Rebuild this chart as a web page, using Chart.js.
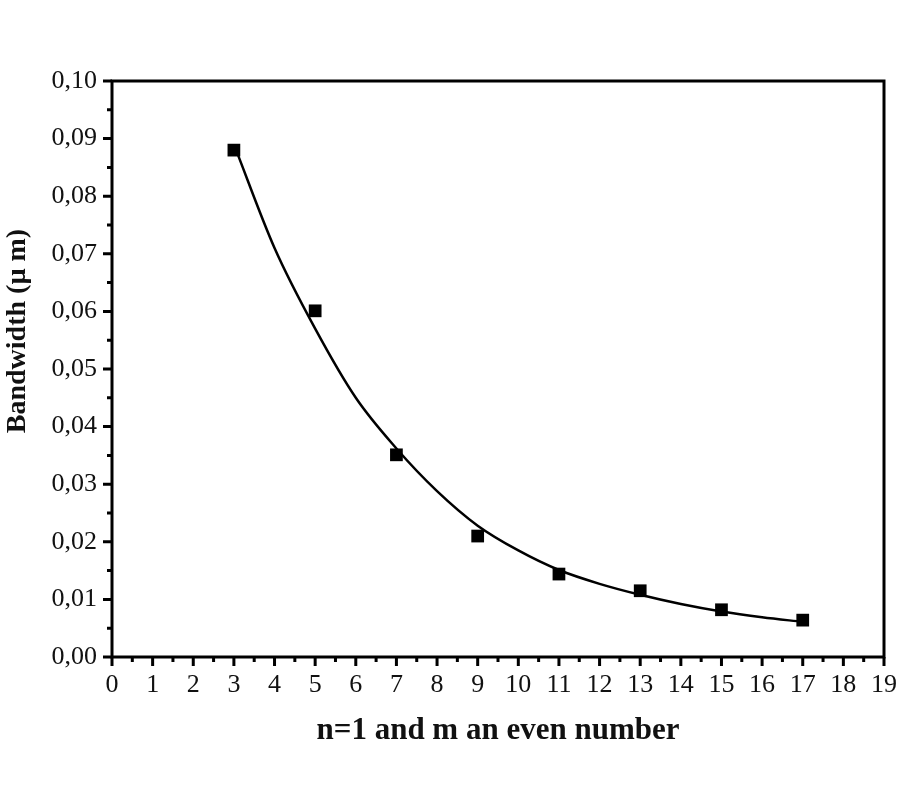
<html><head>
<script src="https://cdn.jsdelivr.net/npm/chart.js"></script>
<title>Bandwidth vs m</title>
<style>
body { margin: 0; background: #fff; }
#wrap { width: 900px; height: 800px; }
</style>
</head>
<body>
<div id="wrap"><canvas id="chart" width="900" height="800"></canvas></div>
<script>
// measured points
const mValues = [3, 5, 7, 9, 11, 13, 15, 17];
const bandwidth = [0.0880, 0.0601, 0.0351, 0.0210, 0.0144, 0.0115, 0.0082, 0.0064];

// fitted curve
const fitX = [3, 4, 5, 6, 7, 8, 9, 10, 11, 12, 13, 14, 15, 16, 17];
const fitY = [0.0890, 0.0710, 0.0570, 0.0450, 0.0362, 0.0288, 0.0228, 0.0185, 0.0151, 0.0127, 0.0108, 0.0092, 0.0079, 0.0069, 0.0061];

const xTicks = [0, 1, 2, 3, 4, 5, 6, 7, 8, 9, 10, 11, 12, 13, 14, 15, 16, 17, 18, 19];
const yTicks = [0, 0.01, 0.02, 0.03, 0.04, 0.05, 0.06, 0.07, 0.08, 0.09, 0.10];
const yTitle = 'Bandwidth (\u00b5 m)';

const serif = "'Liberation Serif', 'Times New Roman', serif";

// frame, outward ticks (major + minor) and the y title
const framePlugin = {
  id: 'frame',
  afterDraw(chart) {
    const {ctx, chartArea: a, scales: {x, y}} = chart;
    ctx.save();
    ctx.strokeStyle = '#000';
    ctx.lineWidth = 3;
    ctx.strokeRect(a.left, a.top, a.right - a.left, a.bottom - a.top);
    ctx.beginPath();
    for (let i = 0; i <= 38; i++) {
      const px = x.getPixelForValue(i * 0.5);
      const len = i % 2 === 0 ? 9 : 5;
      ctx.moveTo(px, a.bottom);
      ctx.lineTo(px, a.bottom + len);
    }
    for (let i = 0; i <= 20; i++) {
      const py = y.getPixelForValue(i * 0.005);
      const len = i % 2 === 0 ? 9 : 5;
      ctx.moveTo(a.left, py);
      ctx.lineTo(a.left - len, py);
    }
    ctx.stroke();

    ctx.translate(18, 331);
    ctx.rotate(-Math.PI / 2);
    ctx.fillStyle = '#111';
    ctx.font = 'bold 28px ' + serif;
    ctx.textAlign = 'center';
    ctx.textBaseline = 'middle';
    ctx.fillText(yTitle, 0, 0);
    ctx.restore();
  }
};

const ctx = document.getElementById('chart').getContext('2d');
new Chart(ctx, {
  type: 'scatter',
  data: {
    datasets: [{
      label: 'fit',
      type: 'line',
      data: fitX.map((v, i) => ({x: v, y: fitY[i]})),
      borderColor: '#000',
      borderWidth: 2.5,
      pointRadius: 0,
      cubicInterpolationMode: 'monotone',
      fill: false
    }, {
      label: 'Bandwidth',
      data: mValues.map((v, i) => ({x: v, y: bandwidth[i]})),
      backgroundColor: '#000',
      borderColor: '#000',
      borderWidth: 0,
      pointStyle: 'rect',
      pointRadius: 9,
      pointHoverRadius: 9
    }]
  },
  options: {
    responsive: false,
    animation: false,
    layout: { padding: { top: 81, right: 16, left: 0, bottom: 50 } },
    plugins: { legend: { display: false }, tooltip: { enabled: false } },
    scales: {
      x: {
        type: 'linear',
        min: 0, max: 19,
        afterBuildTicks: s => { s.ticks = xTicks.map(v => ({value: v})); },
        afterFit: s => { s.height = 93; s.paddingRight = 0; s.paddingLeft = 0; },
        grid: { display: false },
        border: { display: false },
        ticks: {
          color: '#111',
          padding: 5,
          font: { family: serif, size: 26 },
          maxRotation: 0,
          autoSkip: false
        },
        title: {
          display: true,
          text: 'n=1 and m an even number',
          color: '#111',
          font: { family: serif, size: 31, weight: 'bold' },
          padding: { top: 0, bottom: 0 }
        }
      },
      y: {
        min: 0, max: 0.10,
        afterBuildTicks: s => { s.ticks = yTicks.map(v => ({value: v})); },
        afterFit: s => { s.width = 112; },
        grid: { display: false },
        border: { display: false },
        ticks: {
          color: '#111',
          padding: 7,
          font: { family: serif, size: 26 },
          callback: v => v.toFixed(2).replace('.', ',')
        }
      }
    }
  },
  plugins: [framePlugin]
});
</script>
</body></html>
